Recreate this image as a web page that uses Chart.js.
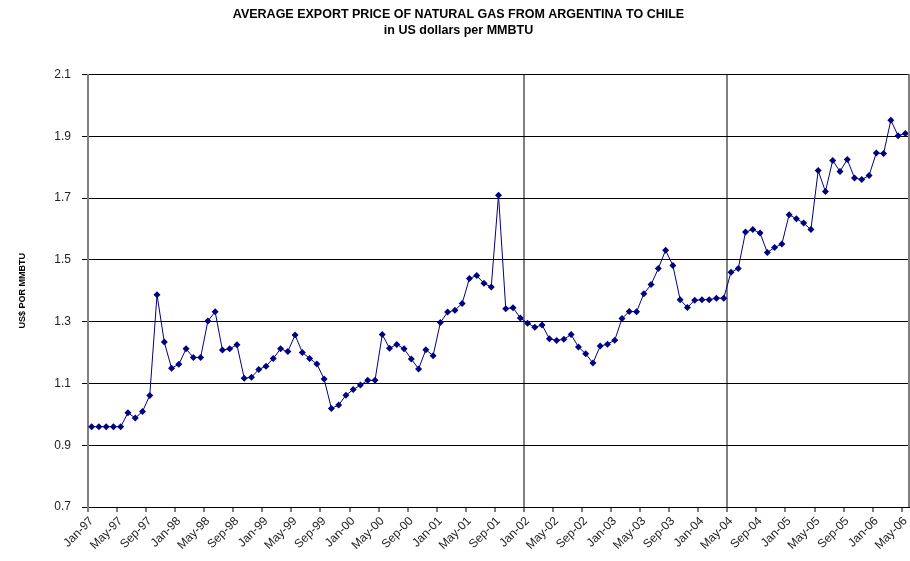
<!DOCTYPE html>
<html>
<head>
<meta charset="utf-8">
<title>Average export price of natural gas from Argentina to Chile</title>
<script src="https://cdn.jsdelivr.net/npm/chart.js@4.4.1/dist/chart.umd.min.js"></script>
<style>
  html, body { margin: 0; padding: 0; background: #fff; }
  #wrap { width: 910px; height: 561px; }
</style>
</head>
<body>
<div id="wrap"><canvas id="gasChart" width="910" height="561"></canvas></div>
<script>
// monthly average export price, US$ per MMBTU (Jan-97 .. May-06)
var MONTHS = ['Jan', 'Feb', 'Mar', 'Apr', 'May', 'Jun', 'Jul', 'Aug', 'Sep', 'Oct', 'Nov', 'Dec'];
var YEARS = ['97', '98', '99', '00', '01', '02', '03', '04', '05', '06'];

var price1997 = [0.96, 0.96, 0.96, 0.96, 0.96, 1.005, 0.988, 1.009, 1.061, 1.387, 1.234, 1.149];
var price1998 = [1.162, 1.212, 1.184, 1.184, 1.302, 1.332, 1.208, 1.212, 1.225, 1.117, 1.120, 1.145];
var price1999 = [1.156, 1.181, 1.212, 1.203, 1.257, 1.200, 1.181, 1.163, 1.114, 1.019, 1.030, 1.062];
var price2000 = [1.080, 1.095, 1.110, 1.110, 1.258, 1.214, 1.226, 1.212, 1.179, 1.147, 1.209, 1.190];
var price2001 = [1.297, 1.331, 1.337, 1.359, 1.440, 1.449, 1.424, 1.412, 1.709, 1.342, 1.345, 1.312];
var price2002 = [1.295, 1.282, 1.289, 1.245, 1.239, 1.243, 1.258, 1.218, 1.196, 1.166, 1.221, 1.227];
var price2003 = [1.240, 1.310, 1.333, 1.332, 1.390, 1.420, 1.472, 1.531, 1.482, 1.371, 1.346, 1.369];
var price2004 = [1.371, 1.371, 1.376, 1.376, 1.460, 1.472, 1.590, 1.598, 1.587, 1.524, 1.540, 1.551];
var price2005 = [1.646, 1.633, 1.619, 1.598, 1.789, 1.721, 1.822, 1.786, 1.825, 1.765, 1.760, 1.773];
var price2006 = [1.846, 1.844, 1.952, 1.902, 1.909];

// category index where a separator line is drawn (Jan-02, May-04)
var SEPARATORS = [60, 88];
var LABEL_EVERY = 4;

var prices = [].concat(price1997, price1998, price1999, price2000, price2001,
  price2002, price2003, price2004, price2005, price2006);

var labels = [];
YEARS.forEach(function (yy) {
  MONTHS.forEach(function (m) {
    if (labels.length < prices.length) labels.push(m + '-' + yy);
  });
});

var FONT = 'Arial, "Liberation Sans", sans-serif';

function xGridColor(ctx) {
  if (ctx.type !== 'tick') return '#808080';
  return SEPARATORS.indexOf(ctx.index) >= 0 ? '#808080' : 'rgba(0,0,0,0)';
}

function xTickColor(ctx) {
  if (ctx.type !== 'tick') return 'rgba(0,0,0,0)';
  return ctx.index % LABEL_EVERY === 0 ? '#000' : 'rgba(0,0,0,0)';
}

new Chart(document.getElementById('gasChart').getContext('2d'), {
  type: 'line',
  data: {
    labels: labels,
    datasets: [{
      label: 'US$ POR MMBTU',
      data: prices,
      borderColor: '#000080',
      backgroundColor: '#000080',
      borderWidth: 1,
      tension: 0,
      pointStyle: 'rectRot',
      pointRadius: 3.5,
      pointBorderWidth: 0,
      pointBackgroundColor: '#000080',
    }],
  },
  options: {
    responsive: false,
    animation: false,
    layout: { autoPadding: false, padding: { left: 8, right: 1, top: 0, bottom: 0 } },
    plugins: {
      legend: { display: false },
      tooltip: { enabled: false },
      title: {
        display: true,
        text: 'AVERAGE EXPORT PRICE OF NATURAL GAS FROM ARGENTINA TO CHILE',
        color: '#000',
        font: { family: FONT, size: 12.5, weight: 'bold' },
        padding: { top: 7.5, bottom: 1 },
      },
      subtitle: {
        display: true,
        text: 'in US dollars per MMBTU',
        color: '#000',
        font: { family: FONT, size: 12.5, weight: 'bold' },
        padding: { top: 0, bottom: 36 },
      },
    },
    scales: {
      x: {
        type: 'category',
        offset: true,
        grid: {
          offset: true,
          drawOnChartArea: true,
          color: xGridColor,
          tickColor: xTickColor,
          lineWidth: 2,
          tickLength: 5,
          tickWidth: 1,
        },
        border: { color: '#000', width: 1 },
        ticks: {
          autoSkip: false,
          minRotation: 45,
          maxRotation: 45,
          padding: 2,
          color: '#222',
          font: { family: FONT, size: 12 },
          callback: function (value, index) {
            return index % LABEL_EVERY === 0 ? this.getLabelForValue(value) : '';
          },
        },
        afterFit: function (scale) {
          scale.height = 54;
          scale.paddingLeft = 0;
          scale.paddingRight = 0;
        },
      },
      y: {
        min: 0.7,
        max: 2.1,
        grid: { color: '#000', lineWidth: 1, tickLength: 6, tickColor: '#000' },
        border: { color: '#808080', width: 2 },
        ticks: {
          stepSize: 0.2,
          padding: 11,
          color: '#222',
          font: { family: FONT, size: 12 },
          callback: function (v) { return Number(v).toFixed(1); },
        },
        title: {
          display: true,
          text: 'US$ POR MMBTU',
          color: '#000',
          font: { family: FONT, size: 9, weight: 'bold' },
          padding: { top: 9, bottom: 0 },
        },
        afterFit: function (scale) { scale.width = 80; },
      },
    },
  },
  plugins: [{
    // right-hand frame of the plot area
    id: 'plotFrame',
    afterDraw: function (chart) {
      var a = chart.chartArea;
      var ctx = chart.ctx;
      ctx.save();
      ctx.strokeStyle = '#808080';
      ctx.lineWidth = 2;
      ctx.beginPath();
      ctx.moveTo(a.right, a.top);
      ctx.lineTo(a.right, a.bottom);
      ctx.stroke();
      ctx.restore();
    },
  }],
});
</script>
</body>
</html>
